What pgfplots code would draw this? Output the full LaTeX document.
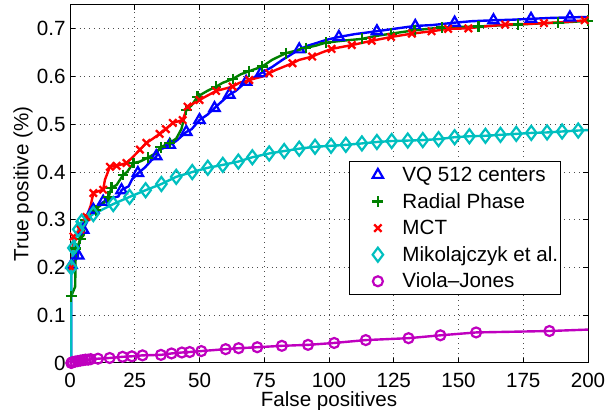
\documentclass[border=0pt]{standalone}
\usepackage{fontspec}
\setmainfont{Liberation Sans}
\usepackage{pgfplots}
\pgfplotsset{compat=1.18}
\usetikzlibrary{calc}
\definecolor{mblue}{rgb}{0,0,1}
\definecolor{mgreen}{rgb}{0,0.5,0}
\definecolor{mred}{rgb}{1,0,0}
\definecolor{mcyan}{rgb}{0,0.75,0.75}
\definecolor{mmag}{rgb}{0.75,0,0.75}
\newcommand{\fs}{\fontsize{10.3}{12}\selectfont}

\begin{document}
\begin{tikzpicture}
\begin{axis}[
  name=ax, scale only axis, width=259pt, height=179pt,
  xmin=0, xmax=200, ymin=0, ymax=0.75,
  xtick={0,25,50,75,100,125,150,175,200},
  ytick={0,0.1,0.2,0.3,0.4,0.5,0.6,0.7},
  yticklabels={0,0.1,0.2,0.3,0.4,0.5,0.6,0.7},
  tick align=inside, major tick length=2.5pt,
  tick style={black, line width=0.5pt},
  axis line style={line width=0.5pt},
  grid=major, major grid style={dotted, black!70, line width=0.5pt},
  /pgf/number format/assume math mode=true,
  tick label style={font=\fs},
  xticklabel style={inner sep=0pt, anchor=north, yshift=-5pt},
  yticklabel style={inner sep=0pt, anchor=east, xshift=-2pt},
  label style={font=\fs},
  xlabel={False positives},
  ylabel={True positive (\%)},
  xlabel style={at={(axis description cs:0.5,-0.1229)}, anchor=base},
  ylabel style={at={(axis description cs:-0.0805,0.5)}, anchor=base},
  legend style={font=\fs, at={(axis description cs:0.948,0.564)}, anchor=north east,
    draw=black, line width=0.5pt, inner xsep=1.2pt, inner ysep=0pt,
    row sep=0pt, column sep=2.3pt,
    nodes={inner xsep=0pt, inner ysep=0pt, text height=10pt, text depth=3.3pt}},
  legend cell align=left,
  legend image code/.code={\path[draw=none, fill=none] (0pt,0pt) -- (22.8pt,0pt);
    \draw[#1] plot coordinates {(12.8pt,0pt)};},
]
% VQ 512 centers
\addplot[mblue, line width=1.2pt, forget plot] coordinates {
(0.5,0)(0.5,0.20)(1,0.209)(2,0.215)(3,0.222)(3.5,0.25)(5,0.279)(7,0.30)(9,0.321)
(11,0.33)(13,0.338)(16,0.345)(18.7,0.349)(20,0.363)(22.6,0.370)(24,0.385)(26.4,0.398)
(29,0.41)(31.5,0.425)(33.3,0.432)(34,0.446)(36,0.45)(38.5,0.457)(41,0.465)(44.9,0.484)
(47,0.49)(50,0.509)(53,0.52)(55.8,0.534)(58,0.545)(61.5,0.562)(64,0.57)(68,0.589)
(71,0.598)(74,0.608)(78,0.62)(82,0.635)(85,0.645)(88.5,0.657)(92,0.665)(95,0.670)
(99,0.677)(103.8,0.683)(110,0.689)(118.5,0.695)(125,0.700)(133,0.706)(140,0.708)
(148.5,0.713)(155,0.716)(163.5,0.718)(170,0.719)(178,0.721)(186,0.723)(193,0.724)(200,0.725)};
\addplot[mblue, only marks, mark=triangle, mark size=3pt, mark options={line width=1.1pt}] coordinates {
(0.6,0.205)(3.2,0.225)(5.1,0.279)(9,0.321)(12.8,0.338)(19.9,0.362)(26.2,0.398)
(33.3,0.433)(38.5,0.457)(44.9,0.484)(50,0.509)(55.8,0.534)(61.5,0.562)(68,0.589)
(73.7,0.607)(88.5,0.657)(103.8,0.683)(118.5,0.695)(133.3,0.706)(148.5,0.713)
(163.5,0.718)(178,0.721)(193,0.724)};
\addlegendentry{VQ 512 centers}
% Radial Phase
\addplot[mgreen, line width=1.2pt, forget plot] coordinates {
(0.5,0.14)(1,0.147)(2,0.16)(2.2,0.24)(3,0.245)(4,0.26)(5.3,0.268)(5.8,0.30)(8,0.31)
(10,0.32)(11,0.327)(13,0.335)(14.9,0.348)(16,0.367)(18,0.373)(20.5,0.394)(22,0.40)
(24.5,0.419)(27,0.422)(30,0.43)(33.3,0.44)(35,0.452)(38.5,0.461)(41,0.47)(43,0.49)
(44.9,0.53)(47,0.54)(49.2,0.558)(53,0.57)(56.4,0.579)(59,0.587)(62.8,0.595)(66,0.605)
(69,0.611)(74.2,0.621)(78,0.635)(83.3,0.649)(88.5,0.656)(91,0.660)(95,0.665)
(98.7,0.671)(105,0.675)(112.7,0.679)(118,0.685)(124,0.690)(133,0.697)(143.5,0.703)
(150,0.704)(157.7,0.705)(165,0.707)(173,0.709)(180,0.711)(188.5,0.713)(195,0.715)(200,0.717)};
\addplot[mgreen, only marks, mark=+, mark size=2.7pt, mark options={line width=1.1pt}] coordinates {
(0.5,0.14)(2.2,0.24)(4,0.26)(5.8,0.30)(10,0.32)(14.9,0.348)(16,0.367)(20.5,0.394)
(24.5,0.419)(30,0.43)(35,0.452)(38.5,0.461)(44.9,0.53)(49.2,0.558)(56.4,0.579)
(62.8,0.595)(69,0.611)(74.2,0.621)(83.3,0.649)(91,0.660)(98.7,0.671)(112.7,0.679)
(124,0.690)(133,0.697)(143.5,0.703)(157.7,0.705)(173,0.709)(188.5,0.713)(200,0.717)};
\addlegendentry{Radial Phase}
% MCT
\addplot[mred, line width=1.2pt, forget plot] coordinates {
(0.5,0.20)(1.3,0.265)(3,0.27)(4,0.28)(5,0.29)(6.4,0.306)(8,0.33)(9,0.356)(11,0.36)
(12.8,0.363)(13.5,0.384)(15.4,0.411)(18,0.413)(21.8,0.419)(24,0.43)(27,0.447)
(29.5,0.461)(32,0.47)(34.6,0.48)(37,0.49)(39.7,0.503)(43.5,0.509)(45.4,0.537)(50,0.551)
(53,0.56)(56.4,0.57)(60,0.575)(62.8,0.579)(65.4,0.587)(69.2,0.593)(74.2,0.600)
(76.9,0.607)(79.5,0.614)(85.9,0.628)(88.5,0.635)(93.5,0.642)(97,0.650)(101,0.658)
(108.8,0.666)(116.5,0.675)(124,0.683)(132,0.690)(139.6,0.695)(146,0.700)(153.8,0.701)
(160,0.705)(168,0.709)(175,0.710)(183,0.712)(190,0.714)(198.7,0.718)(200,0.718)};
\addplot[mred, only marks, mark=x, mark size=2.6pt, mark options={line width=1.1pt}] coordinates {
(0.5,0.20)(1.3,0.265)(4,0.28)(6.4,0.306)(9,0.356)(12.8,0.363)(15.4,0.411)(18,0.413)
(21.8,0.419)(27,0.447)(29.5,0.461)(34.6,0.48)(37,0.49)(39.7,0.503)(43.5,0.509)
(45.4,0.537)(50,0.551)(56.4,0.57)(62.8,0.579)(69.2,0.593)(76.9,0.607)(85.9,0.628)
(93.5,0.642)(101,0.658)(108.8,0.666)(116.5,0.675)(124,0.683)(132,0.690)(139.6,0.695)
(146,0.700)(153.8,0.701)(168,0.709)(183,0.712)(198.7,0.718)};
\addlegendentry{MCT}
% Mikolajczyk et al.
\addplot[mcyan, line width=1.2pt, forget plot] coordinates {
(0.5,0)(0.5,0.20)(1.3,0.241)(3.2,0.28)(4.5,0.296)(9,0.312)(12,0.32)(16.7,0.333)
(23,0.348)(29.2,0.362)(35.3,0.375)(41,0.390)(47.2,0.400)(53.2,0.409)(59,0.415)
(65,0.422)(70.4,0.431)(76.9,0.439)(82.7,0.444)(88.5,0.449)(94.6,0.453)(100.8,0.455)
(106.5,0.457)(112.7,0.460)(118.5,0.463)(124.2,0.465)(130.4,0.466)(136.2,0.467)
(142.3,0.469)(148.5,0.473)(154.2,0.475)(160.4,0.476)(166.2,0.478)(172.3,0.480)
(178.1,0.482)(184.2,0.483)(190,0.485)(196.2,0.487)(200,0.488)};
\addplot[mcyan, only marks, mark=diamond, mark size=3.5pt, mark options={line width=1.1pt}] coordinates {
(0.5,0.20)(1.3,0.241)(3.2,0.28)(4.5,0.296)(9,0.312)(16.7,0.333)
(23,0.348)(29.2,0.362)(35.3,0.375)(41,0.390)(47.2,0.400)(53.2,0.409)(59,0.415)
(65,0.422)(70.4,0.431)(76.9,0.439)(82.7,0.444)(88.5,0.449)(94.6,0.453)(100.8,0.455)
(106.5,0.457)(112.7,0.460)(118.5,0.463)(124.2,0.465)(130.4,0.466)(136.2,0.467)
(142.3,0.469)(148.5,0.473)(154.2,0.475)(160.4,0.476)(166.2,0.478)(172.3,0.480)
(178.1,0.482)(184.2,0.483)(190,0.485)(196.2,0.487)};
\addlegendentry{Mikolajczyk et al.}
% Viola-Jones
\addplot[mmag, line width=1.2pt, forget plot] coordinates {
(0.5,0)(1,0.002)(2,0.003)(3,0.004)(4,0.005)(5,0.006)(6,0.007)(7,0.007)(8,0.008)
(10.8,0.009)(15.3,0.0105)(20.3,0.013)(23.9,0.014)(28,0.016)(35.1,0.017)(39.2,0.020)
(43.2,0.022)(46.2,0.023)(50.7,0.025)(60.1,0.029)(65.1,0.031)(72.3,0.033)(81.8,0.036)
(91.9,0.038)(102,0.042)(114.2,0.048)(130.7,0.052)(143,0.058)(156.8,0.064)(185.1,0.067)(200,0.070)};
\addplot[mmag, only marks, mark=o, mark size=2.5pt, mark options={line width=1.1pt}] coordinates {
(0.5,0)(1,0.002)(2,0.003)(3,0.004)(4,0.005)(5,0.006)(6,0.007)(7,0.007)(8,0.008)
(10.8,0.009)(15.3,0.0105)(20.3,0.013)(23.9,0.014)(28,0.016)(35.1,0.017)(39.2,0.020)
(43.2,0.022)(46.2,0.023)(50.7,0.025)(60.1,0.029)(65.1,0.031)(72.3,0.033)(81.8,0.036)
(91.9,0.038)(102,0.042)(114.2,0.048)(130.7,0.052)(143,0.058)(156.8,0.064)(185.1,0.067)};
\addlegendentry{Viola--Jones}
\end{axis}
\pgfresetboundingbox
\path ($(ax.south west)+(-35pt,-23.5pt)$) rectangle ($(ax.north east)+(10pt,2.5pt)$);
\end{tikzpicture}
\end{document}
